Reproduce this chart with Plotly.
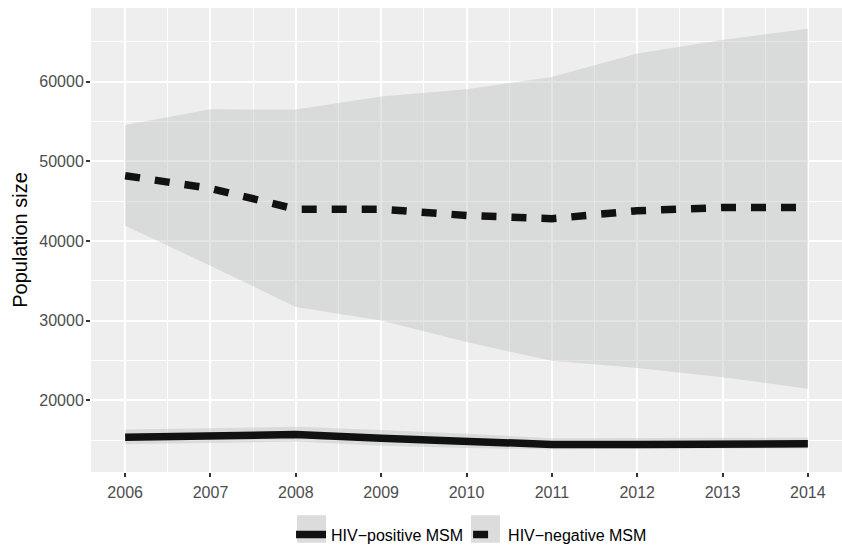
import plotly.graph_objects as go

years = [2006, 2007, 2008, 2009, 2010, 2011, 2012, 2013, 2014]

neg_mid = [48200, 46600, 44000, 44000, 43200, 42800, 43800, 44200, 44200]
neg_lo = [41900, 36900, 31700, 30000, 27300, 24950, 24050, 22900, 21450]
neg_hi = [54550, 56550, 56500, 58150, 59050, 60600, 63550, 65250, 66650]

pos_mid = [15350, 15550, 15700, 15220, 14850, 14450, 14450, 14520, 14530]
pos_lo = [14480, 14650, 14810, 14300, 14000, 13830, 13880, 13930, 13950]
pos_hi = [16330, 16500, 16670, 16250, 15800, 15220, 15250, 15300, 15310]

series_names = ["HIV\u2212positive MSM", "HIV\u2212negative MSM"]

RIBBON = "rgba(189,191,190,0.42)"
FONT = "Liberation Sans, Arial, sans-serif"

fig = go.Figure()

for lo, hi in [(neg_lo, neg_hi), (pos_lo, pos_hi)]:
    fig.add_trace(go.Scatter(x=years, y=hi, mode="lines", line=dict(width=0),
                             showlegend=False, hoverinfo="skip"))
    fig.add_trace(go.Scatter(x=years, y=lo, mode="lines", line=dict(width=0),
                             fill="tonexty", fillcolor=RIBBON,
                             showlegend=False, hoverinfo="skip"))

fig.add_trace(go.Scatter(x=years, y=pos_mid, mode="lines", name=series_names[0],
                         line=dict(color="#111111", width=7.5)))
fig.add_trace(go.Scatter(x=years, y=neg_mid, mode="lines", name=series_names[1],
                         line=dict(color="#111111", width=7.5, dash="15px,15px")))

axis_common = dict(
    showline=False, zeroline=False, automargin=False,
    ticks="outside", ticklen=4, tickwidth=1.5, tickcolor="#333333",
    tickfont=dict(family=FONT, size=16, color="#4d4d4d"),
    gridcolor="#ffffff", gridwidth=1.6,
)

fig.update_xaxes(
    range=[2005.6, 2014.4], tickmode="linear", tick0=2006, dtick=1,
    ticklabelstandoff=2,
    minor=dict(dtick=0.5, tick0=2006, gridcolor="#ffffff", gridwidth=0.8, showgrid=True, ticks=""),
    **axis_common,
)
fig.update_yaxes(
    range=[10988, 69259], tickmode="linear", tick0=0, dtick=10000, tickformat="d",
    ticklabelstandoff=-1,
    minor=dict(dtick=5000, tick0=0, gridcolor="#ffffff", gridwidth=0.8, showgrid=True, ticks=""),
    title=dict(text="Population size", standoff=6,
               font=dict(family=FONT, size=20, color="#000000")),
    **axis_common,
)

# legend key backgrounds (ggplot-style grey key boxes)
for x0, x1 in [(0.2743, 0.3129), (0.5060, 0.5446)]:
    fig.add_shape(type="rect", xref="paper", yref="paper", x0=x0, x1=x1,
                  y0=-0.1525, y1=-0.0932, line=dict(width=0), fillcolor="#dcdcdc",
                  layer="below")

fig.update_layout(
    width=842, height=552,
    margin=dict(l=91, r=0, t=8, b=72),
    paper_bgcolor="#ffffff", plot_bgcolor="#eeeeee",
    showlegend=True,
    legend=dict(orientation="h", x=0.5067, xanchor="center", y=-0.135, yanchor="middle",
                font=dict(family=FONT, size=16, color="#000000"),
                itemwidth=30, traceorder="normal", bgcolor="rgba(0,0,0,0)"),
)

fig.write_html("out.html", config={"displayModeBar": False},
               post_script="document.body.style.margin='0';document.body.style.overflow='hidden';")
